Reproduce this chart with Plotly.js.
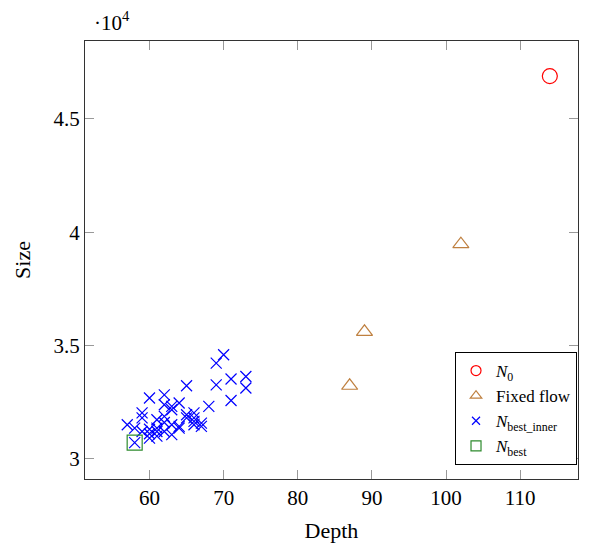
<!DOCTYPE html>
<html>
<head>
<meta charset="utf-8">
<script src="https://cdn.plot.ly/plotly-3.0.1.min.js"></script>
<style>html,body{margin:0;padding:0;background:#fff;}#chart{width:593px;height:546px;}</style>
</head>
<body>
<div id="chart"></div>
<script>
// N0
const n0Depth = [114];
const n0Size = [46890];
// Fixed flow
const fixedDepth = [87, 89, 102];
const fixedSize = [33220, 35600, 39470];
// N_best_inner
const innerDepth = [70, 69, 71, 73, 73, 69, 65, 71, 68, 60, 62, 64, 59, 59, 57, 58, 58, 61, 62, 63, 62, 63, 61, 60, 60, 61, 63, 64, 65, 65, 66, 66, 66, 67, 67, 66, 64, 62, 61, 62, 63, 60, 59];
const innerSize = [34590, 34220, 33520, 33630, 33120, 33260, 33220, 32570, 32310, 32680, 32820, 32460, 32020, 31800, 31500, 31350, 30710, 31720, 31870, 32160, 32380, 32310, 31350, 30910, 31100, 31200, 31060, 31430, 31800, 31940, 32020, 31800, 31500, 31570, 31430, 31650, 31350, 31600, 31000, 31200, 31500, 31300, 31200];
// N_best
const bestDepth = [58];
const bestSize = [30710];

const yTickVals = [30000, 35000, 40000, 45000];
const yTickText = ['3', '3.5', '4', '4.5'];
const xTickVals = [60, 70, 80, 90, 100, 110];

const FONT = 'Liberation Serif, Times New Roman, serif';
const red = '#ff0000', brown = '#bf8040', blue = '#0000ff', green = '#2e8b2e';

const traces = [
  {x: n0Depth, y: n0Size, mode: 'markers', type: 'scatter', showlegend: false,
   marker: {symbol: 'circle-open', size: 15, color: red, line: {width: 1.2, color: red}}},
  {x: fixedDepth, y: fixedSize, mode: 'markers', type: 'scatter', showlegend: false,
   marker: {symbol: 'triangle-up-open', size: 14, color: brown, line: {width: 1.2, color: brown}}},
  {x: innerDepth, y: innerSize, mode: 'markers', type: 'scatter', showlegend: false,
   marker: {symbol: 'x-thin-open', size: 11, color: blue, line: {width: 1.2, color: blue}}},
  {x: bestDepth, y: bestSize, mode: 'markers', type: 'scatter', showlegend: false,
   marker: {symbol: 'square-open', size: 15, color: green, line: {width: 1.2, color: green}}},
  // legend entries
  {x: [null], y: [null], mode: 'markers', type: 'scatter', name: '<i>N</i><sub>0</sub>',
   marker: {symbol: 'circle-open', size: 10, color: red, line: {width: 1.2, color: red}}},
  {x: [null], y: [null], mode: 'markers', type: 'scatter', name: 'Fixed flow',
   marker: {symbol: 'triangle-up-open', size: 10, color: brown, line: {width: 1.2, color: brown}}},
  {x: [null], y: [null], mode: 'markers', type: 'scatter', name: '<i>N</i><sub>best_inner</sub>',
   marker: {symbol: 'x-thin-open', size: 8, color: blue, line: {width: 1.2, color: blue}}},
  {x: [null], y: [null], mode: 'markers', type: 'scatter', name: '<i>N</i><sub>best</sub>',
   marker: {symbol: 'square-open', size: 10, color: green, line: {width: 1.2, color: green}}}
];

const layout = {
  width: 593, height: 546,
  margin: {l: 85, r: 15, t: 41, b: 67},
  paper_bgcolor: '#fff', plot_bgcolor: '#fff',
  font: {family: FONT, size: 21, color: '#000'},
  showlegend: true,
  legend: {x: 0.998, y: 0.032, xanchor: 'right', yanchor: 'bottom',
    bordercolor: '#000', borderwidth: 1, bgcolor: '#fff',
    font: {family: FONT, size: 17, color: '#000'}, itemwidth: 30, tracegroupgap: 0},
  xaxis: {range: [51.3, 117.8], tickvals: xTickVals, ticks: 'inside', ticklen: 9,
    tickcolor: '#999', tickwidth: 1, showline: true, linecolor: '#333', linewidth: 1,
    mirror: 'ticks', showgrid: false, zeroline: false,
    title: {text: 'Depth', font: {family: FONT, size: 22}, standoff: 13},
    tickfont: {family: FONT, size: 21}},
  yaxis: {range: [29104, 48440], tickvals: yTickVals, ticktext: yTickText, ticks: 'inside', ticklen: 9,
    tickcolor: '#999', tickwidth: 1, showline: true, linecolor: '#333', linewidth: 1,
    mirror: 'ticks', showgrid: false, zeroline: false,
    title: {text: 'Size', font: {family: FONT, size: 22}, standoff: 16},
    tickfont: {family: FONT, size: 21}},
  annotations: [{xref: 'paper', yref: 'paper', x: 0.014, y: 1.045, xanchor: 'left', yanchor: 'middle',
    text: '·10<sup>4</sup>', showarrow: false, font: {family: FONT, size: 21, color: '#000'}}]
};

Plotly.newPlot('chart', traces, layout, {displayModeBar: false, staticPlot: true});
</script>
</body>
</html>
